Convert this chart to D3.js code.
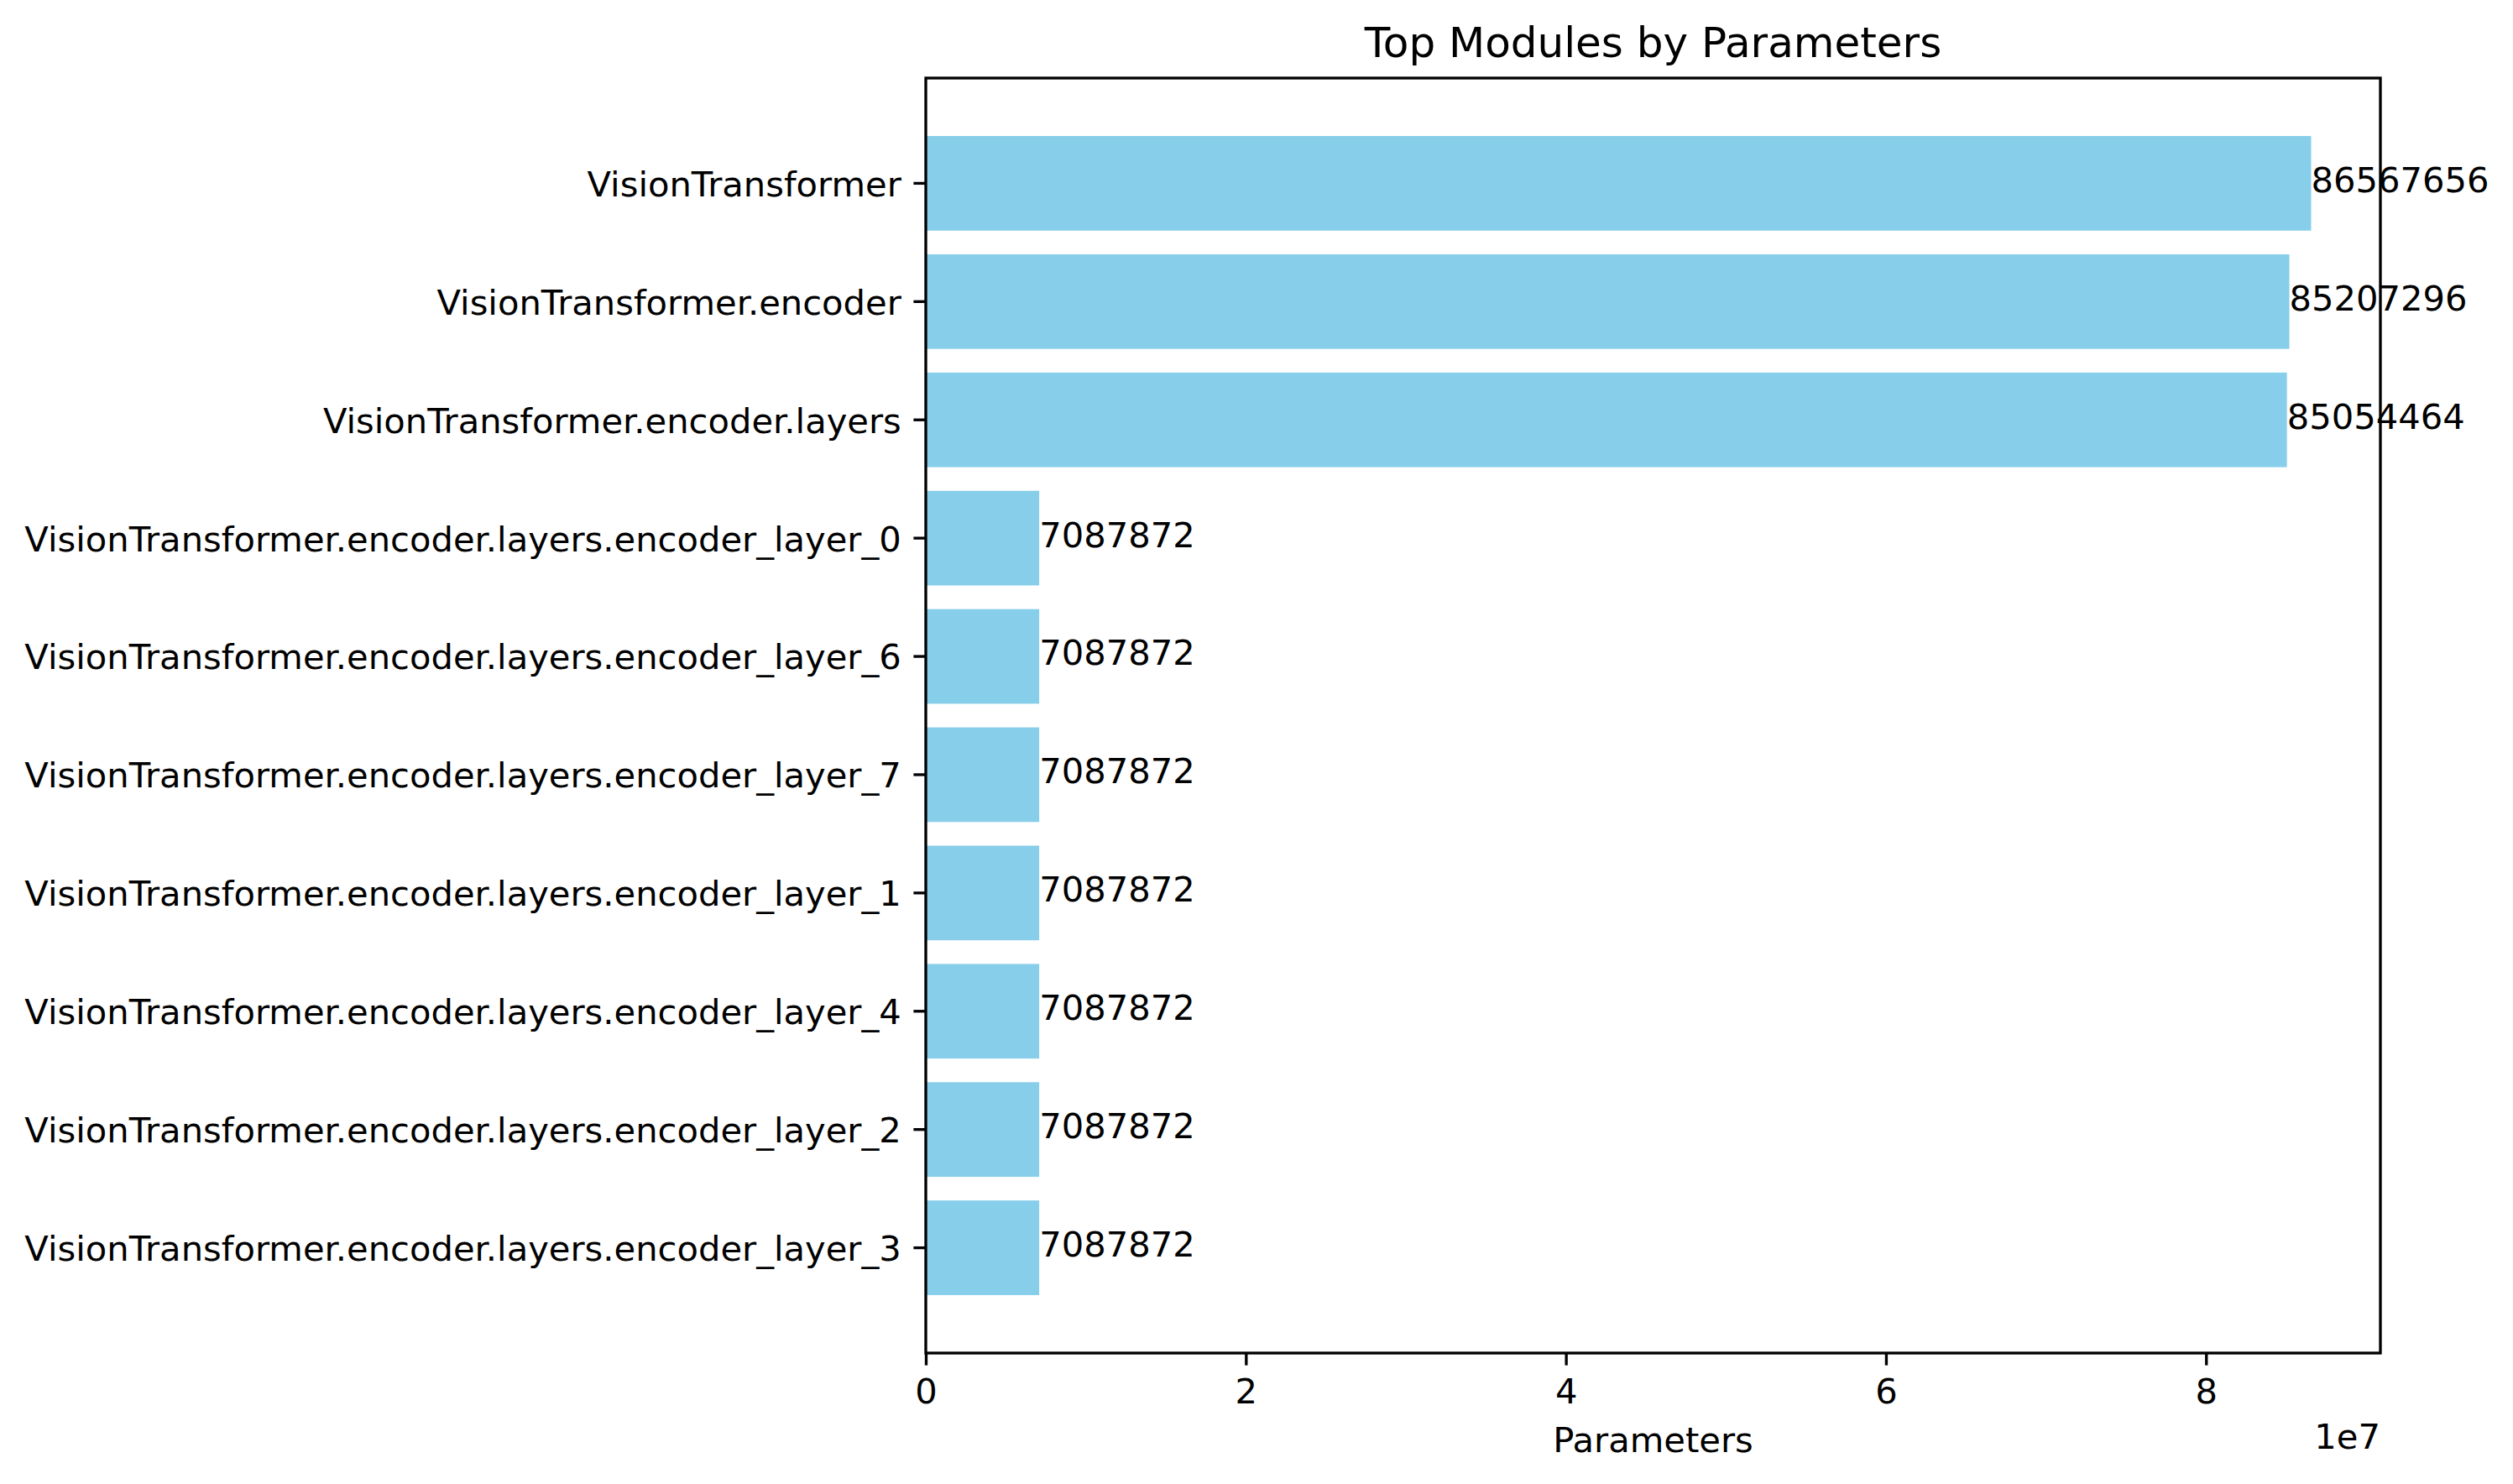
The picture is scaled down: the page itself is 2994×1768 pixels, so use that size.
<!DOCTYPE html>
<html>
<head>
<meta charset="utf-8">
<script src="https://cdn.jsdelivr.net/npm/d3@7"></script>
<style>
  body { margin: 0; background: #fff; }
  text { font-family: "DejaVu Sans", sans-serif; fill: #000; }
</style>
</head>
<body>
<div id="chart"></div>
<script>
// module names, top to bottom
let modules = [
  'VisionTransformer',
  'VisionTransformer.encoder',
  'VisionTransformer.encoder.layers',
  'VisionTransformer.encoder.layers.encoder_layer_0',
  'VisionTransformer.encoder.layers.encoder_layer_6',
  'VisionTransformer.encoder.layers.encoder_layer_7',
  'VisionTransformer.encoder.layers.encoder_layer_1',
  'VisionTransformer.encoder.layers.encoder_layer_4',
  'VisionTransformer.encoder.layers.encoder_layer_2',
  'VisionTransformer.encoder.layers.encoder_layer_3'
]
let params = [86567656, 85207296, 85054464, 7087872, 7087872, 7087872, 7087872, 7087872, 7087872, 7087872]
let xTicks = [0, 2e7, 4e7, 6e7, 8e7]

let W = 2994, H = 1768
let margin = {top: 93, right: 158, bottom: 156, left: 1103}
let iw = W - margin.left - margin.right
let ih = H - margin.top - margin.bottom
let fs = 41.67

let svg = d3.select('#chart')
  .append('svg')
  .attr('width', W)
  .attr('height', H)

let g = svg.append('g')
  .attr('transform', `translate(${margin.left},${margin.top})`)

let data = modules.map((m, i) => ({name: m, value: params[i]}))

// matplotlib pads the data range by 5%
let x = d3.scaleLinear()
  .domain([0, d3.max(params) * 1.05])
  .range([0, iw])

let y = d3.scaleBand()
  .domain(modules)
  .range([0, ih])
  .paddingInner(0.2)
  .paddingOuter(0.49)

g.selectAll('rect.bar')
  .data(data)
  .enter().append('rect')
  .attr('class', 'bar')
  .attr('x', x(0))
  .attr('y', d => y(d.name))
  .attr('width', d => x(d.value) - x(0))
  .attr('height', y.bandwidth())
  .attr('fill', '#87ceeb')

g.selectAll('text.val')
  .data(data)
  .enter().append('text')
  .attr('class', 'val')
  .attr('x', d => x(d.value))
  .attr('y', d => y(d.name) + y.bandwidth() / 2)
  .attr('dy', '0.25em')
  .style('font-size', fs + 'px')
  .text(d => d.value)

let xAxis = g.append('g')
  .attr('transform', `translate(0,${ih})`)
  .call(d3.axisBottom(x)
    .tickValues(xTicks)
    .tickFormat(d => d / 1e7)
    .tickSize(14.6)
    .tickPadding(15.8))
xAxis.select('.domain').remove()
xAxis.selectAll('line').attr('stroke-width', 3.33)
xAxis.selectAll('text').style('font-size', fs + 'px').attr('font-family', null)

let yAxis = g.append('g')
  .call(d3.axisLeft(y)
    .tickSize(14.6)
    .tickPadding(14.6))
yAxis.select('.domain').remove()
yAxis.selectAll('line').attr('stroke-width', 3.33)
yAxis.selectAll('text')
  .style('font-size', fs + 'px')
  .attr('font-family', null)
  .attr('dy', '0.37em')

// spines
g.append('rect')
  .attr('width', iw)
  .attr('height', ih)
  .attr('fill', 'none')
  .attr('stroke', '#000')
  .attr('stroke-width', 3.33)

g.append('text')
  .attr('x', iw / 2)
  .attr('y', -25)
  .attr('text-anchor', 'middle')
  .style('font-size', '50px')
  .text('Top Modules by Parameters')

g.append('text')
  .attr('x', iw / 2)
  .attr('y', ih + 118)
  .attr('text-anchor', 'middle')
  .style('font-size', fs + 'px')
  .text('Parameters')

g.append('text')
  .attr('x', iw)
  .attr('y', ih + 114)
  .attr('text-anchor', 'end')
  .style('font-size', fs + 'px')
  .text('1e7')
</script>
</body>
</html>
